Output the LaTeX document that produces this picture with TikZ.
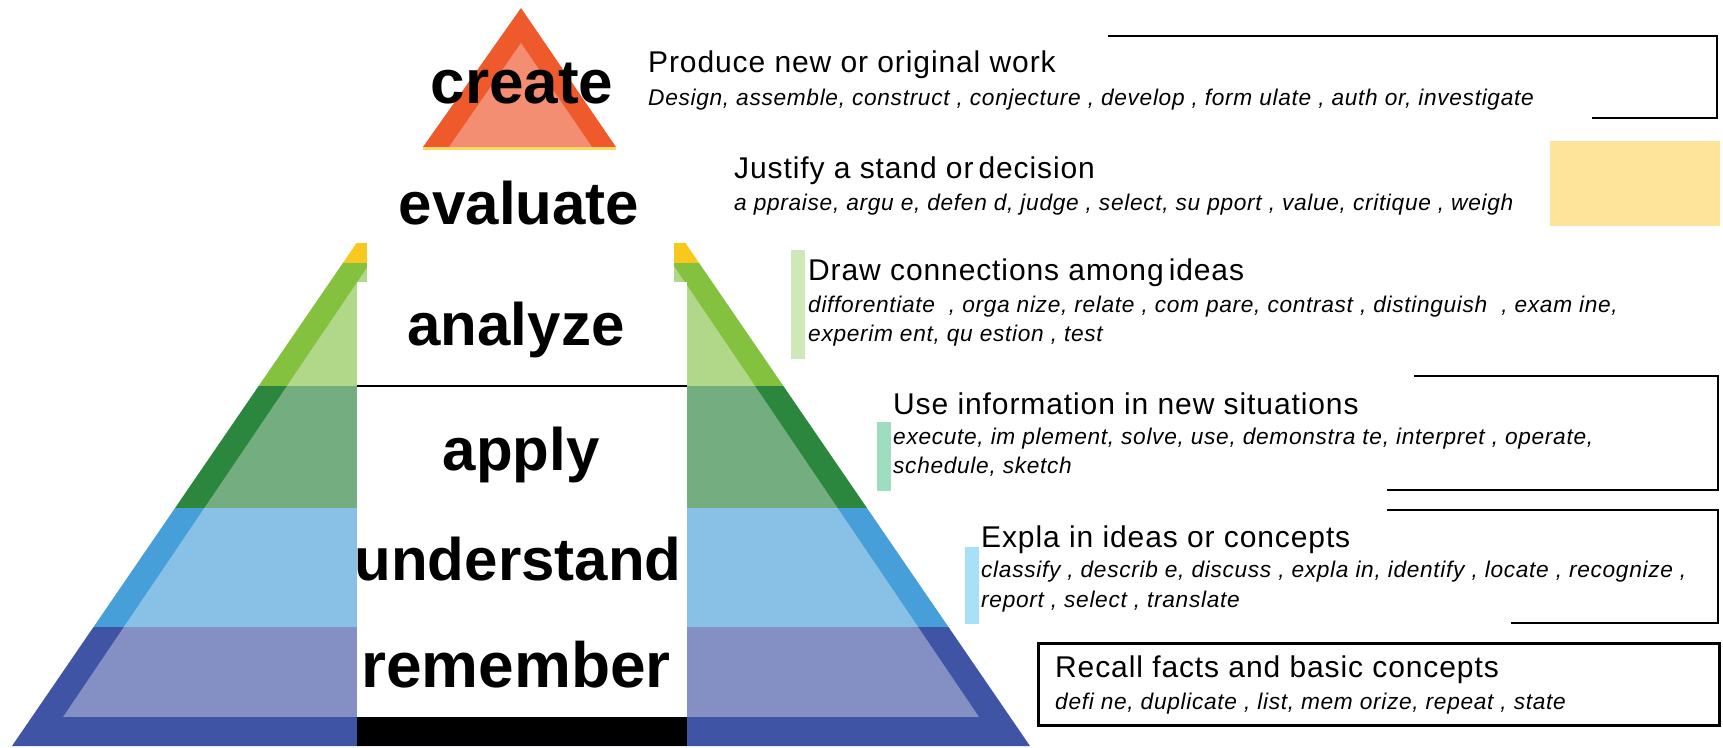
\documentclass[tikz,border=0pt]{standalone}
\usepackage{fontspec}
\setmainfont{Liberation Sans}
\definecolor{topyellow}{HTML}{F9C81E}
\definecolor{greenout}{HTML}{84C13F}
\definecolor{greenin}{HTML}{B1D888}
\definecolor{dgreenout}{HTML}{2B873D}
\definecolor{dgreenin}{HTML}{73AD80}
\definecolor{blueout}{HTML}{479FD9}
\definecolor{bluein}{HTML}{89C1E6}
\definecolor{navyout}{HTML}{3F54A5}
\definecolor{navyin}{HTML}{8490C3}
\definecolor{createout}{HTML}{EE5A2B}
\definecolor{createin}{HTML}{F48E73}
\definecolor{evalpad}{HTML}{FDE49A}
\definecolor{barthree}{HTML}{CFE8B8}
\definecolor{barfour}{HTML}{9EDDBF}
\definecolor{barfive}{HTML}{A7E1F7}
\tikzset{
  level/.style={anchor=base,inner sep=0pt,font=\fontsize{60}{60}\selectfont\bfseries},
  headline/.style={anchor=base west,inner sep=0pt,font=\fontsize{30}{30}\selectfont\addfontfeatures{LetterSpace=3}},
  verbs/.style={anchor=base west,inner sep=0pt,font=\fontsize{22.7}{22.7}\selectfont\itshape\addfontfeatures{LetterSpace=3}},
  bracket/.style={line width=2.2pt}
}
\begin{document}
\begin{tikzpicture}[x=1pt,y=-1pt]
\useasboundingbox (0,0) rectangle (1723,747);
\begin{scope}
\clip (12,746) -- (521,3) -- (1030,746) -- cycle;
\fill[topyellow] (0,243) rectangle (1040,263);
\fill[greenout] (0,263) rectangle (1040,386);
\fill[dgreenout] (0,386) rectangle (1040,508);
\fill[blueout] (0,508) rectangle (1040,627);
\fill[navyout] (0,627) rectangle (1040,747);
\clip (63,717) -- (521,40) -- (979,717) -- cycle;
\fill[greenin] (0,263) rectangle (1040,386);
\fill[dgreenin] (0,386) rectangle (1040,508);
\fill[bluein] (0,508) rectangle (1040,627);
\fill[navyin] (0,627) rectangle (1040,717);
\end{scope}
\fill[white] (367,230) rectangle (674,285);
\fill[white] (357,282) rectangle (687,717);
\fill[black] (357,717) rectangle (687,746);
\draw[line width=1.2pt] (357,386) -- (687,386);
\fill[createout] (423,147) -- (521,8) -- (616,147) -- cycle;
\fill[createin] (449,147) -- (521,43) -- (592,147) -- cycle;
\fill[topyellow!70] (423,147) rectangle (616,150);
\node[level,font=\fontsize{62}{62}\selectfont\bfseries] (create) at (522,103) {create};
\node[level] (evaluate) at (519,224) {evaluate};
\node[level] (analyze) at (516,345) {analyze};
\node[level] (apply) at (521,470) {apply};
\node[level] (understand) at (518,580) {understand};
\node[level,font=\fontsize{64}{64}\selectfont\bfseries] (remember) at (516,687) {remember};
\fill[evalpad] (1550,141) rectangle (1720,226);
\fill[barthree] (791,250) rectangle (805,359);
\fill[barfour] (877,422) rectangle (891,491);
\fill[barfive] (965,547) rectangle (979,624);
\draw[bracket] (1108,36) -- (1717,36) -- (1717,118) -- (1592,118);
\draw[bracket] (1414,376) -- (1718,376) -- (1718,490) -- (1387,490);
\draw[bracket] (1387,510) -- (1718,510) -- (1718,623) -- (1511,623);
\draw[line width=3pt] (1038,643) rectangle (1719,725);
\node[headline] (createhead) at (648,72) {Produce new or original work};
\node[verbs] (createverbs) at (648,105) {Design, assemble, construct , conjecture , develop , form ulate , auth or, investigate};
\node[headline] (evaluatehead) at (734,178) {Justify a stand or\,decision};
\node[verbs] (evaluateverbs) at (734,210) {a ppraise, argu e, defen d, judge , select, su pport , value, critique , weigh};
\node[headline] (analyzehead) at (808,280) {Draw connections among\,ideas};
\node[verbs] (analyzeverbs) at (808,312) {difforentiate\ \ , orga nize, relate , com pare, contrast , distinguish\ \ , exam ine,};
\node[verbs] (analyzemore) at (808,341) {experim ent, qu estion , test};
\node[headline] (applyhead) at (893,414) {Use information in new situations};
\node[verbs] (applyverbs) at (893,444) {execute, im plement, solve, use, demonstra te, interpret , operate,};
\node[verbs] (applymore) at (893,473) {schedule, sketch};
\node[headline] (understandhead) at (981,547) {Expla in ideas or concepts};
\node[verbs] (understandverbs) at (981,577) {classify , describ e, discuss , expla in, identify , locate , recognize ,};
\node[verbs] (understandmore) at (981,607) {report , select , translate};
\node[headline] (rememberhead) at (1055,677) {Recall facts and basic concepts};
\node[verbs] (rememberverbs) at (1055,709) {defi ne, duplicate , list, mem orize, repeat , state};
\end{tikzpicture}
\end{document}
